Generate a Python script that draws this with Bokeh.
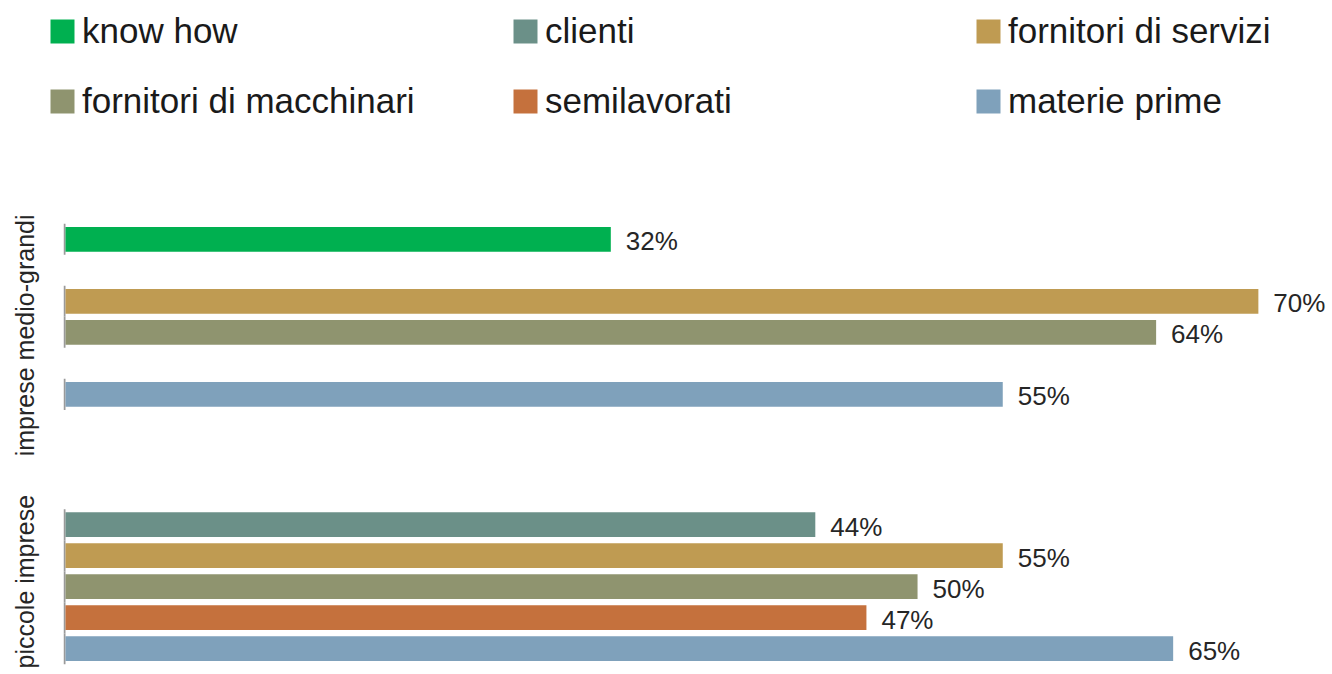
from bokeh.plotting import figure
from bokeh.models import (FactorRange, Range1d, ColumnDataSource, Legend, LegendItem,
                          CategoricalAxis)
from bokeh.core.properties import value
from bokeh.embed import file_html
from bokeh.resources import INLINE

groups = ["imprese medio-grandi", "piccole imprese"]
series = ["know how", "clienti", "fornitori di servizi",
          "fornitori di macchinari", "semilavorati", "materie prime"]
medio_grandi = [32, None, 70, 64, None, 55]
piccole_imprese = [None, 44, 55, 50, 47, 65]
colors = ["#00B050", "#6B9088", "#BF9B52", "#8F946F", "#C5713D", "#7FA1BB"]

values_by_group = {groups[0]: medio_grandi, groups[1]: piccole_imprese}

# ---------- legend strip ----------
leg = figure(width=1332, height=214, x_range=Range1d(0, 1), y_range=Range1d(0, 1),
             output_backend="svg", toolbar_location=None,
             x_axis_location=None, y_axis_location=None,
             min_border=0)
leg.outline_line_color = None
leg.grid.visible = False
proxy = {}
for i, s in enumerate(series):
    # zero-size proxy glyph, only used to draw the legend swatch
    proxy[s] = leg.hbar(y=[0], left=[0], right=[0], height=0, fill_color=colors[i],
                        line_color=None)

legend_columns = [(0, 3), (1, 4), (2, 5)]
legend_x = [47, 510, 973]
for (a, b), lx in zip(legend_columns, legend_x):
    lg = Legend(items=[LegendItem(label=series[a], renderers=[proxy[series[a]]]),
                       LegendItem(label=series[b], renderers=[proxy[series[b]]])],
                location=(lx, 93), orientation="vertical",
                glyph_width=30, glyph_height=30, label_standoff=5,
                label_height=40, spacing=30, padding=0, margin=0,
                border_line_color=None, background_fill_alpha=0,
                label_text_font="Liberation Sans", label_text_font_size="35px",
                label_text_color="#1a1a1a")
    leg.add_layout(lg)

# ---------- main chart ----------
factors = [(g, s) for g in reversed(groups) for s in reversed(series)]
y_range = FactorRange(factors=factors, group_padding=2.2,
                      range_padding=0.3, range_padding_units="absolute")

p = figure(width=1332, height=460, y_range=y_range, x_range=Range1d(-0.117, 74.35),
           output_backend="svg", toolbar_location=None,
           x_axis_location=None, y_axis_location=None,
           min_border_top=0, min_border_bottom=1, min_border_left=63, min_border_right=0)
p.outline_line_color = None
p.grid.visible = False

# group-level category axis for the two vertical group labels
p.extra_y_ranges = {"groups": FactorRange(factors=list(reversed(groups)),
                                          factor_padding=0.5, range_padding=0)}
gax = CategoricalAxis(y_range_name="groups")
gax.axis_line_color = None
gax.major_tick_line_color = None
gax.minor_tick_line_color = None
gax.major_tick_out = 0
gax.major_tick_in = 0
gax.major_label_orientation = "vertical"
gax.major_label_standoff = 24
gax.major_label_text_font = "Liberation Sans"
gax.major_label_text_font_size = "25px"
gax.major_label_text_color = "#262626"
p.add_layout(gax, "left")

for i, s in enumerate(series):
    ys, xs = [], []
    for g in groups:
        v = values_by_group[g][i]
        if v is not None:
            ys.append((g, s))
            xs.append(v)
    src = ColumnDataSource(dict(y=ys, x=xs, label=[f"{v}%" for v in xs]))
    p.hbar(y="y", left=-0.117, right=0, height=1.0, fill_color="#9a9a9a",
           line_color=None, source=src)
    p.hbar(y="y", left=0, right="x", height=0.8, fill_color=colors[i],
           line_color=None, source=src)
    p.text(x="x", y="y", text="label", x_offset=15, y_offset=2,
           text_baseline="middle", text_align="left",
           text_font=value("Liberation Sans"), text_font_size="26px",
           text_color="#262626", source=src)

open("out.html", "w").write(file_html([leg, p], INLINE))
